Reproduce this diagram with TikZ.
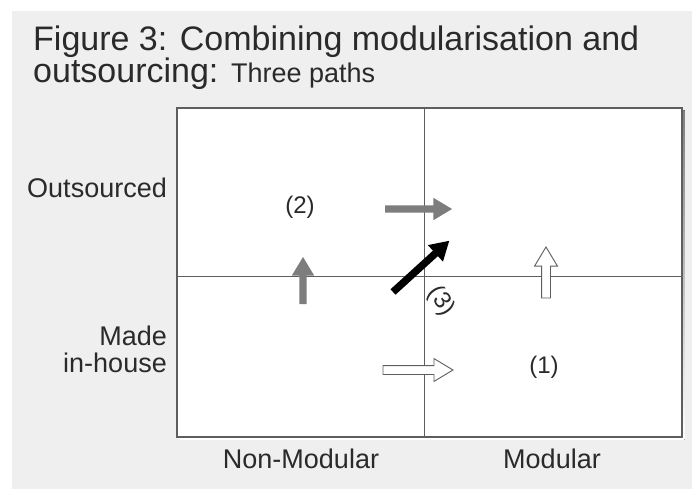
\documentclass[tikz,border=0pt]{standalone}
\usepackage{fontspec}
\setmainfont{Liberation Sans}
\usetikzlibrary{shapes.arrows}

\definecolor{panel}{HTML}{EFEFEF}
\definecolor{rule}{HTML}{5E5E5E}
\definecolor{shade}{HTML}{9A9A9A}
\definecolor{arrowgray}{HTML}{7D7D7D}
\definecolor{ink}{HTML}{2A2A2A}

\tikzset{
  fat/.style={single arrow, anchor=tail, outer sep=0pt, inner xsep=0pt,
    single arrow tip angle=62, minimum height=#1},
  fatgray/.style={fat=#1, fill=arrowgray, inner ysep=3.5pt, single arrow head extend=7.5pt},
  fatblack/.style={fat=#1, fill=black, inner ysep=3.5pt, single arrow head extend=7.5pt},
  fatwhite/.style={fat=#1, fill=white, draw=rule, line width=0.9pt, inner ysep=4pt,
    single arrow head extend=7pt},
  axislabel/.style={text=ink, inner sep=0pt, font=\fontsize{27}{30}\selectfont},
  cell/.style={text=ink, inner sep=0pt, font=\fontsize{24}{26}\selectfont}
}

\begin{document}
\begin{tikzpicture}[x=1pt, y=-1pt]
  \useasboundingbox (0,0) rectangle (692,489);
  \fill[panel] (12,11) rectangle (692,489);

  % title
  \node[anchor=base west, inner sep=0pt, text=ink, font=\fontsize{34}{36}\selectfont]
    (title_a) at (33,51) {Figure 3: Combining modularisation and};
  \node[anchor=base west, inner sep=0pt, text=ink, font=\fontsize{34}{36}\selectfont]
    (title_b) at (33,83) {outsourcing: {\fontsize{27}{30}\selectfont Three paths}};

  % the 2x2 grid
  \coordinate (nw) at (177,108);
  \coordinate (se) at (682,437);
  \coordinate (top_mid) at (424,108);
  \coordinate (bot_mid) at (424,437);
  \coordinate (left_mid) at (177,276);
  \coordinate (right_mid) at (682,276);

  \fill[shade] ([shift={(2.5,2.5)}]nw) rectangle ([shift={(2.5,2.5)}]se);
  \draw[rule, fill=white, line width=1.1pt] (nw) rectangle (se);
  \draw[rule, line width=1pt] (top_mid) -- (bot_mid);
  \draw[rule, line width=1pt] (left_mid) -- (right_mid);

  \begin{scope}[every node/.style={axislabel}]
    \node[anchor=base east] (outsourced) at (167,197) {Outsourced};
    \node[anchor=base east] (made) at (167,345) {Made};
    \node[anchor=base east] (inhouse) at (167,372) {in-house};
    \node[anchor=base] (nonmod) at (301,468) {Non-Modular};
    \node[anchor=base] (mod) at (552,468) {Modular};
  \end{scope}

  \begin{scope}[every node/.style={cell}]
    \node[] (p2) at (300,207) {(2)};
    \node[] (p1) at (544,367) {(1)};
    \node[rotate=-55] (p3) at (441,301) {(3)};
  \end{scope}

  % paths between the cells
  \node[fatgray=67pt] (right_2) at (385,209) {};
  \node[fatgray=47pt, rotate=90] (up_2) at (303,304) {};
  \node[fatblack=76pt, rotate=42.3] (diag_3) at (393,292) {};
  \node[fatwhite=51pt, rotate=90] (up_1) at (546,298) {};
  \node[fatwhite=70pt] (right_1) at (383,370) {};
\end{tikzpicture}
\end{document}
